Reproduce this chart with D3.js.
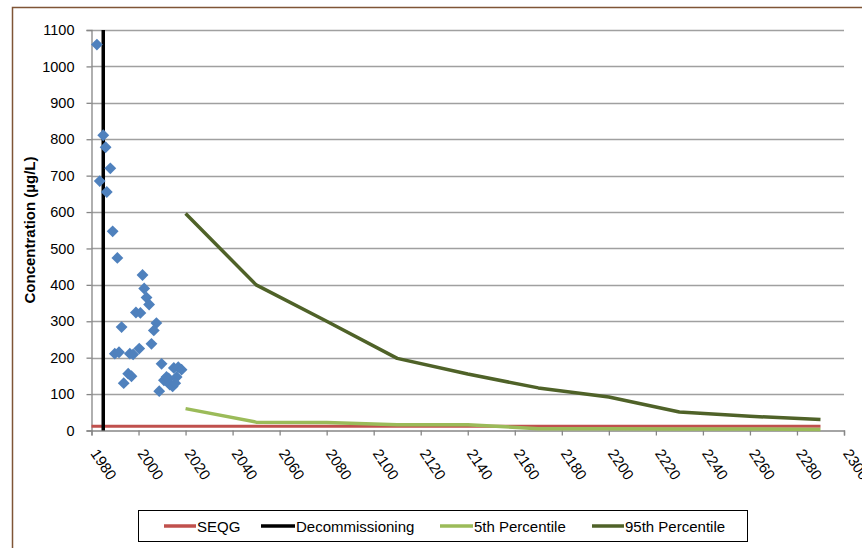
<!DOCTYPE html>
<html><head><meta charset="utf-8">
<script src="https://cdn.jsdelivr.net/npm/d3@7"></script>
<style>body{margin:0;background:#fff;}svg{display:block;font-family:"Liberation Sans",Arial,sans-serif;}</style>
</head><body>
<svg id="c" width="862" height="548"></svg>
<script>
const scatterYears = [1982.3,1985,1986,1983.5,1988,1986.5,1989,1991,1992.8,1989.9,1991.7,1996.3,1997.7,2000.3,1995.6,1997,1993.7,1998.9,2000.8,2001.7,2002.4,2003.4,2004.5,2007.6,2006.5,2005.5,2009.8,2008.8,2010.8,2011.9,2012.8,2013.3,2014.5,2015,2016.2,2016.9,2018.3,2015.6];
const scatterValues = [1060,811,778,685,720,655,547,474,284,211,215,211,209,225,156,149,130,324,323,427,390,365,346,295,275,238,183,108,138,147,143,126,121,172,147,174,167,130];
const seqgYears = [1980,2290];
const seqgValues = [12,12];
const decomYears = [1985,1985];
const decomValues = [0,1100];
const projYears = [2020,2050,2080,2110,2140,2170,2200,2230,2260,2290];
const p5Values = [60,23,22,16,16,5,5,4,4,3];
const p95Values = [596,400,300,198,155,117,92,51,39,30];
const yTicks = [0,100,200,300,400,500,600,700,800,900,1000,1100];
const xTicks = [1980,2000,2020,2040,2060,2080,2100,2120,2140,2160,2180,2200,2220,2240,2260,2280,2300];
const legendLabels = ["SEQG","Decommissioning","5th Percentile","95th Percentile"];
const colors = {seqg:"#C0504D", decom:"#000000", p5:"#9BBB59", p95:"#4F6228", pts:"#4F81BD"};

const svg = d3.select("#c");
// outer frame
svg.append("rect").attr("x",12.5).attr("y",7.5).attr("width",870).attr("height",560)
  .attr("fill","none").attr("stroke","#7F5536").attr("stroke-width",1.5);

const x = d3.scaleLinear().domain([1980,2300]).range([91.5,844]);
const y = d3.scaleLinear().domain([0,1100]).range([430.5,30]);

// gridlines
svg.append("g").selectAll("line").data(yTicks.filter(d=>d>0)).join("line")
  .attr("x1",x(1980)).attr("x2",x(2300)).attr("y1",d=>Math.round(y(d))+0.5).attr("y2",d=>Math.round(y(d))+0.5)
  .attr("stroke","#A0A0A0").attr("stroke-width",1.3);

// y axis
const ya = svg.append("g").attr("transform",`translate(${x(1980)},0)`)
  .call(d3.axisLeft(y).tickValues(yTicks).tickSize(5).tickPadding(12).tickFormat(d3.format("d")));
ya.select(".domain").attr("stroke","#868686").attr("stroke-width",1.3);
ya.selectAll(".tick line").attr("stroke","#868686").attr("stroke-width",1.3);
ya.selectAll("text").attr("font-size",14.5).attr("fill","#000").attr("font-family","Liberation Sans, Arial, sans-serif");

// x axis
const xa = svg.append("g").attr("transform",`translate(0,${y(0)})`)
  .call(d3.axisBottom(x).tickValues(xTicks).tickSize(5).tickFormat(d3.format("d")));
xa.select(".domain").attr("stroke","#868686").attr("stroke-width",1.3);
xa.selectAll(".tick line").attr("stroke","#868686").attr("stroke-width",1.3);
xa.selectAll("text").attr("font-size",15).attr("fill","#000").attr("font-family","Liberation Sans, Arial, sans-serif")
  .attr("text-anchor","start").attr("dy",null).attr("y",0)
  .attr("transform","translate(-2,23) rotate(56)");

// y title
svg.append("text").attr("transform","translate(35,230) rotate(-90)").attr("text-anchor","middle")
  .attr("font-weight","bold").attr("font-size",15).text("Concentration (µg/L)");

const line = d3.line().x(d=>x(d[0])).y(d=>y(d[1]));
// SEQG
svg.append("path").datum(d3.zip(seqgYears,seqgValues)).attr("d",line)
  .attr("fill","none").attr("stroke",colors.seqg).attr("stroke-width",3);
// 5th
svg.append("path").datum(d3.zip(projYears,p5Values)).attr("d",line)
  .attr("fill","none").attr("stroke",colors.p5).attr("stroke-width",3.5).attr("stroke-linejoin","round");
// 95th
svg.append("path").datum(d3.zip(projYears,p95Values)).attr("d",line)
  .attr("fill","none").attr("stroke",colors.p95).attr("stroke-width",3.5).attr("stroke-linejoin","round");
// Decommissioning
svg.append("path").datum(d3.zip(decomYears,decomValues)).attr("d",line)
  .attr("fill","none").attr("stroke",colors.decom).attr("stroke-width",3.5);

// scatter
const sym = d3.symbol(d3.symbolSquare, 70);
svg.append("g").selectAll("path").data(d3.zip(scatterYears,scatterValues)).join("path")
  .attr("d",sym).attr("transform",d=>`translate(${x(d[0])},${y(d[1])}) rotate(45)`)
  .attr("fill",colors.pts);

// legend
const lg = svg.append("g");
lg.append("rect").attr("x",138.5).attr("y",510.5).attr("width",609).attr("height",31)
  .attr("fill","#fff").attr("stroke","#000").attr("stroke-width",1);
const legItems = [
  {label:legendLabels[0], c:colors.seqg, lx:164, tx:197},
  {label:legendLabels[1], c:colors.decom, lx:261, tx:296},
  {label:legendLabels[2], c:colors.p5, lx:440, tx:474},
  {label:legendLabels[3], c:colors.p95, lx:592, tx:625}
];
legItems.forEach(it=>{
  lg.append("line").attr("x1",it.lx).attr("x2",it.tx-1).attr("y1",526).attr("y2",526)
    .attr("stroke",it.c).attr("stroke-width",3.5);
  lg.append("text").attr("x",it.tx).attr("y",531.5).attr("font-size",15).text(it.label);
});
</script>
</body></html>
